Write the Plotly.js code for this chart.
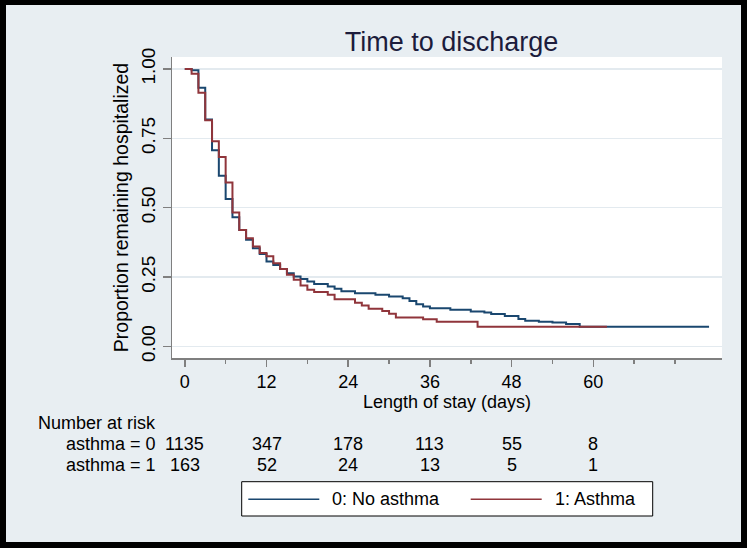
<!DOCTYPE html>
<html>
<head>
<meta charset="utf-8">
<script src="https://cdn.plot.ly/plotly-3.0.1.min.js"></script>
<style>
html,body{margin:0;padding:0;background:#000;width:747px;height:548px;overflow:hidden;}
#plot{position:absolute;left:6px;top:5px;width:735px;height:537px;}
</style>
</head>
<body>
<div id="plot"></div>
<script>
// Kaplan-Meier estimates
const noAsthmaTime = [0,1,2,3,4,5,6,7,8,9,10,11,12,13,14,15,16,17,18,19,21,22,23,25,28,30,32,33,34,35,36,39,42,44,45,47,49,50,52,54,56,58,77];
const noAsthmaSurv = [1.0,0.995,0.932,0.818,0.707,0.615,0.531,0.466,0.42,0.385,0.354,0.333,0.306,0.294,0.279,0.264,0.252,0.243,0.234,0.225,
                      0.216,0.208,0.199,0.192,0.186,0.18,0.174,0.164,0.152,0.144,0.138,0.132,0.126,0.122,0.117,0.110,0.099,0.093,0.0895,0.086,0.081,0.0715,0.0715];
const asthmaTime = [0,1,2,3,4,5,6,7,8,9,10,11,12,13,14,15,16,17,18,19,21,22,25,26,27,29,30,31,35,37,43,62];
const asthmaSurv = [1.0,0.983,0.914,0.815,0.739,0.683,0.591,0.483,0.42,0.39,0.36,0.337,0.325,0.30,0.279,0.258,0.24,0.22,0.204,0.196,
                    0.186,0.170,0.158,0.148,0.136,0.128,0.118,0.104,0.098,0.0895,0.0715,0.0715];

const seriesNames = ["0: No asthma", "1: Asthma"];
const seriesColors = ["#1a476f", "#90353b"];
const riskTimes = [0,12,24,36,48,60];
const riskNoAsthma = [1135,347,178,113,55,8];
const riskAsthma = [163,52,24,13,5,1];
const riskRowLabels = ["asthma = 0", "asthma = 1"];
const xTickVals = [0,12,24,36,48,60];
const xMinorVals = [6,18,30,42,54,66,72];
const yTickVals = [0,0.25,0.5,0.75,1];
const yTickText = ["0.00","0.25","0.50","0.75","1.00"];

const FONT = "Liberation Sans, Arial, Helvetica, sans-serif";
const FS = 18;

const traces = [
  {x: noAsthmaTime, y: noAsthmaSurv, name: seriesNames[0], type: "scatter", mode: "lines",
   line: {shape: "hv", color: seriesColors[0], width: 2}, showlegend: false, hoverinfo: "x+y"},
  {x: asthmaTime, y: asthmaSurv, name: seriesNames[1], type: "scatter", mode: "lines",
   line: {shape: "hv", color: seriesColors[1], width: 2}, showlegend: false, hoverinfo: "x+y"}
];

// plot area in div px: left 166, top 52, width 550, height 301
const PL = 166, PT = 52, PW = 550, PH = 301;
const px = v => (v - PL) / PW;
const py = v => (PT + PH - v) / PH;

const annotations = [];
// x-axis title
annotations.push({xref:"paper", yref:"paper", x: 0.5, y: py(397), xanchor:"center", yanchor:"middle",
  text:"Length of stay (days)", showarrow:false, font:{family:FONT, size:FS, color:"#000"}});
annotations.push({xref:"paper", yref:"paper", x: px(30), y: py(418), xanchor:"left", yanchor:"middle",
  text:"Number at risk", showarrow:false, font:{family:FONT, size:FS, color:"#000"}});
const rows = [riskNoAsthma, riskAsthma];
const rowY = [439, 460];
rows.forEach((vals, r) => {
  annotations.push({xref:"paper", yref:"paper", x: px(58), y: py(rowY[r]), xanchor:"left", yanchor:"middle",
    text: riskRowLabels[r], showarrow:false, font:{family:FONT, size:FS, color:"#000"}});
  vals.forEach((v, i) => {
    annotations.push({xref:"x", yref:"paper", x: riskTimes[i], y: py(rowY[r]), xanchor:"center", yanchor:"middle",
      text: String(v), showarrow:false, font:{family:FONT, size:FS, color:"#000"}});
  });
});
// legend
const legY = py(494.3);
annotations.push({xref:"paper", yref:"paper", x: px(324), y: legY, xanchor:"left", yanchor:"middle",
  text: seriesNames[0], showarrow:false, font:{family:FONT, size:FS, color:"#000"}});
annotations.push({xref:"paper", yref:"paper", x: px(546.7), y: legY, xanchor:"left", yanchor:"middle",
  text: seriesNames[1], showarrow:false, font:{family:FONT, size:FS, color:"#000"}});

const shapes = [
  {type:"rect", xref:"paper", yref:"paper", x0: px(235.7), x1: px(646.7), y0: py(476.7), y1: py(511),
   fillcolor:"#ffffff", line:{color:"#000", width:1}},
  {type:"line", xref:"paper", yref:"paper", x0: px(242.3), x1: px(313.3), y0: legY, y1: legY,
   line:{color: seriesColors[0], width:1.5}},
  {type:"line", xref:"paper", yref:"paper", x0: px(464.7), x1: px(535.7), y0: legY, y1: legY,
   line:{color: seriesColors[1], width:1.5}}
];

const layout = {
  width: 735, height: 537,
  paper_bgcolor: "#e8eef2",
  plot_bgcolor: "#ffffff",
  margin: {l: PL, t: PT, r: 735 - PL - PW, b: 537 - PT - PH, pad: 0},
  font: {family: FONT, size: FS, color: "#000"},
  title: {text: "Time to discharge", x: 0.5 + (451.5 - 447)/PW, xref: "paper", xanchor: "center",
          y: 1 - 37/537, yref: "container", yanchor: "middle",
          font: {family: FONT, size: 27, color: "#1c1c3c"}},
  xaxis: {
    range: [-1.88, 78.9], tickmode: "array", tickvals: xTickVals,
    ticks: "outside", ticklen: 7, tickwidth: 1.5, tickcolor: "#7f7f7f",
    showline: true, linecolor: "#7f7f7f", linewidth: 1.5, showgrid: false, zeroline: false,
    minor: {tickmode: "array", tickvals: xMinorVals, ticks: "outside", ticklen: 4, tickwidth: 1.5, tickcolor: "#7f7f7f", showgrid: false},
    tickfont: {family: FONT, size: FS, color: "#000"},
    fixedrange: true
  },
  yaxis: {
    range: [-0.0415, 1.043], tickmode: "array", tickvals: yTickVals, ticktext: yTickText,
    tickangle: -90,
    ticks: "outside", ticklen: 8, tickwidth: 1.5, tickcolor: "#7f7f7f",
    showline: true, linecolor: "#7f7f7f", linewidth: 1.5,
    showgrid: true, gridcolor: "#e3eaef", gridwidth: 1.5, zeroline: false,
    tickfont: {family: FONT, size: 19, color: "#000"},
    title: {text: "Proportion remaining hospitalized", standoff: 4, font: {family: FONT, size: 19.5, color: "#000"}},
    fixedrange: true
  },
  showlegend: false,
  annotations: annotations,
  shapes: shapes
};

Plotly.newPlot("plot", traces, layout, {displayModeBar: false, staticPlot: true});
</script>
</body>
</html>
